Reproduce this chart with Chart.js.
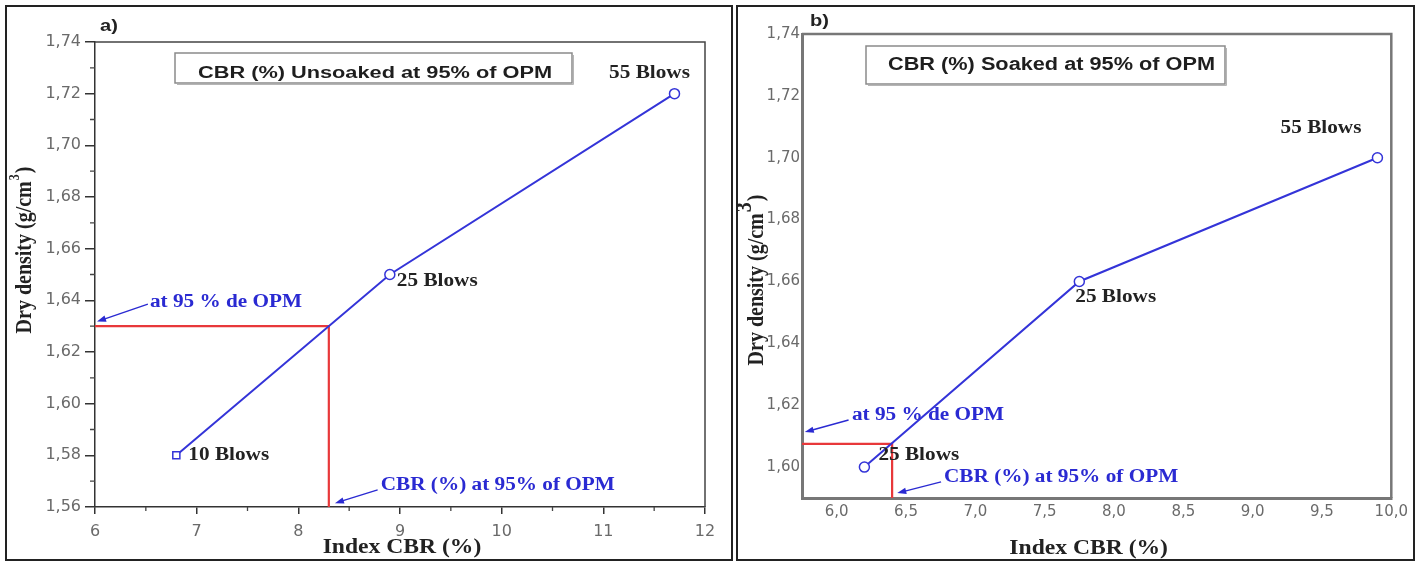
<!DOCTYPE html>
<html lang="en">
<head>
<meta charset="UTF-8" />
<title>Index CBR vs dry density</title>
<style>
  body { margin: 0; background: #fff; }
  .panel { position: absolute; top: 5px; height: 556px; border: 2px solid #222; box-sizing: border-box; }
  #panelA { left: 5px; width: 728px; }
  #panelB { left: 736px; width: 679px; }
  canvas { display: block; }
</style>
</head>
<body>
<div class="panel" id="panelA"><canvas id="unsoakedChart" width="724" height="552"></canvas></div>
<div class="panel" id="panelB"><canvas id="soakedChart" width="675" height="552"></canvas></div>

<script src="https://cdn.jsdelivr.net/npm/chart.js"></script>
<script>
// a) unsoaked CBR
const unsoakedLabels = ['10 Blows', '25 Blows', '55 Blows'];
const unsoakedCbr = [6.8, 8.9, 11.7];
const unsoakedDensity = [1.58, 1.65, 1.72];
const unsoakedAt95 = [8.3, 1.63];      // CBR, dry density at 95% of OPM
const unsoakedXRange = [6, 12];
const unsoakedYRange = [1.56, 1.74];

// b) soaked CBR
const soakedLabels = ['25 Blows', '25 Blows', '55 Blows'];
const soakedCbr = [6.2, 7.75, 9.9];
const soakedDensity = [1.60, 1.66, 1.70];
const soakedAt95 = [6.4, 1.6075];
const soakedXRange = [5.75, 10];
const soakedYRange = [1.59, 1.74];

const BLUE = '#3434d8';
const NOTE_BLUE = '#2a2ad2';
const RED = '#e8383a';
const INK = '#222';
const SX = 1.18; // the lettering of this figure runs wide

const serifBold = size => 'bold ' + size + 'px "Liberation Serif", "Times New Roman", serif';
const sansBold = size => 'bold ' + size + 'px "Liberation Sans", Arial, sans-serif';
const comma = (v, d) => v.toFixed(d).replace('.', ',');

function wideText(ctx, text, x, y, font, color, align, width) {
  ctx.save();
  ctx.font = font;
  ctx.fillStyle = color;
  ctx.textBaseline = 'middle';
  ctx.textAlign = 'left';
  const raw = ctx.measureText(text).width;
  const sx = width ? width / raw : SX;
  const w = raw * sx;
  let left = x;
  if (align === 'center') left = x - w / 2;
  else if (align === 'right') left = x - w;
  ctx.translate(left, y);
  ctx.scale(sx, 1);
  ctx.fillText(text, 0, 0);
  ctx.restore();
}

function arrow(ctx, x1, y1, x2, y2) {
  const ang = Math.atan2(y2 - y1, x2 - x1);
  ctx.save();
  ctx.strokeStyle = NOTE_BLUE;
  ctx.fillStyle = NOTE_BLUE;
  ctx.lineWidth = 1.4;
  ctx.beginPath();
  ctx.moveTo(x1, y1);
  ctx.lineTo(x2 - 6 * Math.cos(ang), y2 - 6 * Math.sin(ang));
  ctx.stroke();
  ctx.translate(x2, y2);
  ctx.rotate(ang);
  ctx.beginPath();
  ctx.moveTo(0, 0);
  ctx.lineTo(-9, -3.2);
  ctx.lineTo(-9, 3.2);
  ctx.closePath();
  ctx.fill();
  ctx.restore();
}

// extra drawing on top of each panel: frame, minor ticks, titles, labels, notes
function figurePlugin(cfg) {
  return {
    id: 'figure',
    afterDraw(chart) {
      const { ctx, chartArea: a } = chart;
      const xs = chart.scales.x, ys = chart.scales.y;
      const px = v => xs.getPixelForValue(v);
      const py = v => ys.getPixelForValue(v);

      // top and right frame
      ctx.save();
      ctx.strokeStyle = cfg.frameColor;
      ctx.lineWidth = cfg.frameWidth;
      ctx.beginPath();
      ctx.moveTo(a.left, a.top);
      ctx.lineTo(a.right, a.top);
      ctx.lineTo(a.right, a.bottom);
      ctx.stroke();

      // minor ticks
      if (cfg.minor) {
        ctx.lineWidth = 1.3;
        ctx.strokeStyle = '#444';
        ctx.beginPath();
        for (let v = xs.min + cfg.minor.x; v < xs.max; v += cfg.minor.x * 2) {
          ctx.moveTo(px(v), a.bottom);
          ctx.lineTo(px(v), a.bottom + 4);
        }
        for (let v = ys.min + cfg.minor.y; v < ys.max; v += cfg.minor.y * 2) {
          ctx.moveTo(a.left - 5, py(v));
          ctx.lineTo(a.left, py(v));
        }
        ctx.stroke();
      }
      ctx.restore();

      // y axis title with superscript
      ctx.save();
      ctx.translate(cfg.yTitle.x, cfg.yTitle.y);
      ctx.rotate(-Math.PI / 2);
      ctx.scale(1, SX);
      ctx.fillStyle = INK;
      ctx.textBaseline = 'middle';
      ctx.font = serifBold(20);
      const main = 'Dry density (g/cm';
      const wMain = ctx.measureText(main).width;
      ctx.font = serifBold(cfg.yTitle.supSize);
      const wSup = ctx.measureText('3').width;
      ctx.font = serifBold(20);
      let sx0 = -(wMain + wSup + ctx.measureText(')').width) / 2;
      ctx.fillText(main, sx0, 0);
      ctx.font = serifBold(cfg.yTitle.supSize);
      ctx.fillText('3', sx0 + wMain + 1, -cfg.yTitle.supRise);
      ctx.font = serifBold(20);
      ctx.fillText(')', sx0 + wMain + wSup + 2, 0);
      ctx.restore();

      // x axis title
      wideText(ctx, 'Index CBR (%)', (a.left + a.right) / 2 + cfg.xTitle.dx, cfg.xTitle.y, serifBold(20), INK, 'center');

      // title box
      const b = cfg.box;
      ctx.save();
      ctx.strokeStyle = '#8a8a8a';
      ctx.lineWidth = 1.5;
      ctx.strokeRect(b.x, b.y, b.w, b.h);
      ctx.strokeStyle = '#b5b5b5';
      ctx.lineWidth = 1;
      ctx.beginPath();
      ctx.moveTo(b.x + 2, b.y + b.h + 1.5);
      ctx.lineTo(b.x + b.w + 1.5, b.y + b.h + 1.5);
      ctx.lineTo(b.x + b.w + 1.5, b.y + 2);
      ctx.stroke();
      ctx.restore();
      wideText(ctx, cfg.title, b.textX, b.textY, sansBold(b.size), '#1e1e1e', 'left', b.textW);

      // panel letter
      wideText(ctx, cfg.letter.text, cfg.letter.x, cfg.letter.y, sansBold(17), INK, 'left', 0);

      // point labels
      cfg.labels.forEach((t, i) => {
        const o = cfg.labelOffsets[i];
        wideText(ctx, t, px(cfg.cbr[i]) + o[0], py(cfg.density[i]) + o[1], serifBold(18), INK, o[2]);
      });

      // 95% OPM notes
      cfg.notes.forEach(n => {
        wideText(ctx, n.text, px(n.at[0]), py(n.at[1]), serifBold(18), NOTE_BLUE, 'left');
        arrow(ctx, px(n.from[0]), py(n.from[1]), px(n.to[0]), py(n.to[1]));
      });
    }
  };
}

function makeChart(id, c) {
  const blue = c.cbr.map((v, i) => ({ x: v, y: c.density[i] }));
  const red = [
    { x: c.xRange[0], y: c.at95[1] },
    { x: c.at95[0], y: c.at95[1] },
    { x: c.at95[0], y: c.yRange[0] }
  ];
  return new Chart(document.getElementById(id), {
    type: 'scatter',
    data: {
      datasets: [
        {
          data: blue, showLine: true, borderColor: BLUE, borderWidth: 2,
          pointStyle: c.pointStyles, pointRadius: 5, pointBackgroundColor: '#fff',
          pointBorderColor: BLUE, pointBorderWidth: 1.5
        },
        { data: red, showLine: true, borderColor: RED, borderWidth: 2.2, pointRadius: 0 }
      ]
    },
    options: {
      responsive: false,
      animation: false,
      layout: { padding: c.padding },
      plugins: { legend: { display: false }, tooltip: { enabled: false } },
      scales: {
        x: {
          type: 'linear', min: c.xRange[0], max: c.xRange[1],
          afterFit: s => { s.height = c.xHeight; },
          ticks: {
            stepSize: c.xStep, includeBounds: false, autoSkip: false, maxRotation: 0,
            color: '#6a6a6a', font: { family: 'DejaVu Sans', size: c.tickSize },
            padding: c.xPad, callback: v => comma(v, c.xDigits)
          },
          grid: { display: c.tickMarks, drawOnChartArea: false, tickLength: c.tickMarks ? 7 : 0, color: c.axisColor, lineWidth: 1.5 },
          border: { color: c.axisColor, width: c.axisWidth }
        },
        y: {
          type: 'linear', min: c.yRange[0], max: c.yRange[1],
          afterFit: s => { s.width = c.yWidth; },
          ticks: {
            stepSize: 0.02, includeBounds: false, autoSkip: false,
            color: '#6a6a6a', font: { family: 'DejaVu Sans', size: c.tickSize },
            padding: c.yPad, callback: v => comma(v, 2)
          },
          grid: { display: c.tickMarks, drawOnChartArea: false, tickLength: c.tickMarks ? 10 : 0, color: c.axisColor, lineWidth: 1.5 },
          border: { color: c.axisColor, width: c.axisWidth }
        }
      }
    },
    plugins: [figurePlugin(c)]
  });
}

makeChart('unsoakedChart', {
  cbr: unsoakedCbr, density: unsoakedDensity, labels: unsoakedLabels, at95: unsoakedAt95,
  xRange: unsoakedXRange, yRange: unsoakedYRange, xStep: 1, xDigits: 0,
  pointStyles: ['rect', 'circle', 'circle'],
  padding: { top: 35, right: 26, left: 0, bottom: 0 }, yWidth: 88, xHeight: 52,
  tickMarks: true, tickSize: 16, xPad: 8, yPad: 4,
  axisColor: '#333', axisWidth: 1.5, frameColor: '#444', frameWidth: 1.5,
  minor: { x: 0.5, y: 0.01 },
  yTitle: { x: 18, y: 244, supSize: 12, supRise: 8 },
  xTitle: { dx: 2, y: 541 },
  box: { x: 168, y: 46, w: 397, h: 30, textX: 191, textY: 67, textW: 354, size: 16 },
  title: 'CBR (%) Unsoaked at 95% of OPM',
  letter: { text: 'a)', x: 93, y: 19 },
  labelOffsets: [[12, 0, 'left'], [7, 7, 'left'], [-25, -20, 'center']],
  notes: [
    { text: 'at 95 % de OPM', at: [6.54, 1.6393], from: [6.52, 1.6385], to: [6.02, 1.6318] },
    { text: 'CBR (%) at 95% of OPM', at: [8.81, 1.5685], from: [8.78, 1.5666], to: [8.36, 1.5615] }
  ]
});

makeChart('soakedChart', {
  cbr: soakedCbr, density: soakedDensity, labels: soakedLabels, at95: soakedAt95,
  xRange: soakedXRange, yRange: soakedYRange, xStep: 0.5, xDigits: 1,
  pointStyles: ['circle', 'circle', 'circle'],
  padding: { top: 27, right: 17, left: 0, bottom: 0 }, yWidth: 64, xHeight: 61,
  tickMarks: false, tickSize: 15, xPad: 5, yPad: 2,
  axisColor: '#777', axisWidth: 3, frameColor: '#777', frameWidth: 2.5,
  minor: null,
  yTitle: { x: 19, y: 274, supSize: 20, supRise: 10 },
  xTitle: { dx: -8, y: 542 },
  box: { x: 128, y: 39, w: 359, h: 38, textX: 150, textY: 58, textW: 327, size: 18 },
  title: 'CBR (%) Soaked at 95% of OPM',
  letter: { text: 'b)', x: 72, y: 14 },
  labelOffsets: [[14, -12, 'left'], [-4, 16, 'left'], [-16, -29, 'right']],
  notes: [
    { text: 'at 95 % de OPM', at: [6.11, 1.6168], from: [6.086, 1.6152], to: [5.77, 1.6113] },
    { text: 'CBR (%) at 95% of OPM', at: [6.774, 1.5968], from: [6.753, 1.5952], to: [6.437, 1.5916] }
  ]
});
</script>
</body>
</html>
